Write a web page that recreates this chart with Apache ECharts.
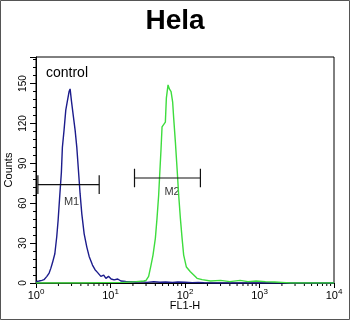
<!DOCTYPE html>
<html>
<head>
<meta charset="utf-8">
<script src="https://cdn.jsdelivr.net/npm/echarts@6/dist/echarts.min.js"></script>
<style>
  html, body { margin: 0; padding: 0; background: #fff; }
  #chart { width: 350px; height: 320px; }
</style>
</head>
<body>
<div id="chart"></div>
<script>
// control histogram (blue), FL1-H value vs counts
const ctrlFL = [1, 1.1, 1.2, 1.28, 1.4, 1.5, 1.58, 1.66, 1.79, 1.9, 1.98, 2.08, 2.19, 2.26, 2.38, 2.51,
  2.64, 2.78, 2.87, 2.99, 3.18, 3.35, 3.53, 3.71, 3.91, 4.12, 4.43, 4.81, 5.17, 5.73, 6.2, 6.68, 7.42,
  8.1, 8.68, 9.4, 10.2, 11.2, 12.5, 13.8, 16, 18.8, 22, 26, 31, 38, 46, 55, 68, 80, 100, 125, 150, 180, 250, 10000];
const ctrlCount = [1, 1.5, 2, 2.5, 5, 7.5, 11, 15, 22, 35, 47, 65, 83, 102, 115, 130,
  137, 144, 146, 137, 125, 115, 102, 85, 67, 52, 37, 27, 20, 13.5, 10, 8, 5,
  6, 3.5, 5, 3, 2.3, 3, 1.5, 1.2, 1, 0.8, 1, 0.5, 1, 0.6, 0.8, 0.5, 0.8, 0.6, 0.3, 0.5, 0.2, 0, 0];

// stained sample histogram (green)
const helaFL = [1, 2, 4, 8, 15, 22, 28, 30, 32.5, 35, 37.2, 40, 42.1, 44.3, 45.7, 47.7, 49.2, 51.7,
  54.5, 56.2, 59.2, 61.7, 65, 68.3, 70.5, 74.3, 78.3, 82.3, 86.7, 91.4, 96, 104.4, 118, 131, 145,
  170, 220, 300, 400, 550, 700, 900, 1200, 1600, 2000, 2600, 10000];
const helaCount = [0, 0, 0, 0.3, 0.5, 1, 1.5, 2, 5, 13.5, 21, 33.6, 48.6, 66, 81, 101, 117.5, 119,
  121, 139, 149, 146, 144, 136, 124, 106, 86, 66, 48.6, 33.6, 21, 12, 8.5, 6, 3.5,
  2.5, 1.5, 2, 1, 2, 1, 1.5, 1, 0.8, 0.5, 0, 0];

// gate markers: [from, to, level], label position [x, y]
const gateNames = ['M1', 'M2'];
const gateFrom = [1.06, 21];
const gateTo = [7.05, 161];
const gateLevel = [74, 79];
const gateLabelX = [3.0, 67];
const gateLabelY = [61, 68.5];

const yTicks = [0, 30, 60, 90, 120, 150];
const xDecades = [1, 10, 100, 1000, 10000];

const pairs = (xs, ys) => xs.map((x, i) => [x, ys[i]]);

// log minor ticks 2..9 per decade
const xMinor = [];
xDecades.slice(0, -1).forEach(d => {
  for (let k = 2; k <= 9; k++) xMinor.push(d * k);
});

const font = 'Liberation Sans, Arial, Helvetica, sans-serif';
const chart = echarts.init(document.getElementById('chart'));

const gateSeries = [];
gateNames.forEach((n, i) => {
  const lineStyle = { color: '#111', width: 1.2 };
  gateSeries.push({
    type: 'line', symbol: 'none', silent: true, lineStyle,
    data: [[gateFrom[i], gateLevel[i]], [gateTo[i], gateLevel[i]]]
  });
  [gateFrom[i], gateTo[i]].forEach(x => {
    gateSeries.push({
      type: 'line', symbol: 'none', silent: true, lineStyle,
      data: [[x, gateLevel[i] - 7], [x, gateLevel[i] + 7]]
    });
  });
});

chart.setOption({
  animation: false,
  backgroundColor: '#fff',
  title: {
    text: 'Hela', left: 'center', top: 2,
    textStyle: { fontFamily: font, fontSize: 28, fontWeight: 'bold', color: '#000' }
  },
  grid: {
    left: 36, right: 16, top: 57, bottom: 37,
    outerBoundsMode: 'none', containLabel: false,
    show: true, borderColor: '#000', borderWidth: 1
  },
  xAxis: {
    type: 'log', logBase: 10, min: 1, max: 10000,
    name: 'FL1-H', nameLocation: 'middle', nameGap: 17, nameMoveOverlap: false,
    nameTextStyle: { fontFamily: font, fontSize: 11, color: '#000' },
    axisLine: { lineStyle: { color: '#000', width: 1 } },
    axisTick: { length: 5, lineStyle: { color: '#000' } },
    splitLine: { show: false },
    axisLabel: {
      margin: 5,
      formatter: v => '{b|10}{s|' + Math.round(Math.log10(v)) + '}',
      rich: {
        b: { fontFamily: font, fontSize: 11, lineHeight: 16, color: '#000' },
        s: { fontFamily: font, fontSize: 8, lineHeight: 8, verticalAlign: 'top', color: '#000' }
      }
    }
  },
  yAxis: {
    type: 'value', min: 0, max: 170, interval: 30,
    name: 'Counts', nameLocation: 'middle', nameGap: 22, nameMoveOverlap: false,
    nameTextStyle: { fontFamily: font, fontSize: 11, color: '#000' },
    axisLine: { lineStyle: { color: '#000', width: 1 } },
    axisTick: { length: 6, lineStyle: { color: '#000' } },
    minorTick: { show: true, splitNumber: 5, length: 3, lineStyle: { color: '#000' } },
    splitLine: { show: false },
    axisLabel: {
      rotate: 90, margin: 8, fontFamily: font, fontSize: 10, color: '#000',
      formatter: v => (yTicks.indexOf(v) >= 0 ? String(v) : '')
    }
  },
  graphic: [
    {
      type: 'rect', silent: true,
      shape: { x: 0.5, y: 0.5, width: 349, height: 319 },
      style: { fill: 'none', stroke: '#555', lineWidth: 1 }
    },
    {
      type: 'text', left: 46, top: 66, silent: true,
      style: { text: 'control', font: '14px ' + font, fill: '#000' }
    }
  ],
  series: [
    {
      type: 'custom', silent: true, clip: false,
      data: xMinor.map(v => [v, 0]),
      renderItem: (params, api) => {
        const p = api.coord([api.value(0), 0]);
        return {
          type: 'line',
          shape: { x1: p[0], y1: p[1], x2: p[0], y2: p[1] + 3 },
          style: { stroke: '#000', lineWidth: 1 }
        };
      }
    },
    {
      name: 'control', type: 'line', symbol: 'none', silent: true,
      lineStyle: { color: '#1c1c8c', width: 1.4 },
      data: pairs(ctrlFL, ctrlCount)
    },
    {
      name: 'Hela', type: 'line', symbol: 'none', silent: true,
      lineStyle: { color: '#3ddc3d', width: 1.4 },
      data: pairs(helaFL, helaCount)
    },
    ...gateSeries,
    {
      type: 'scatter', symbolSize: 0, silent: true,
      data: gateNames.map((n, i) => ({ value: [gateLabelX[i], gateLabelY[i]], name: n })),
      label: {
        show: true, position: 'inside', formatter: p => p.name,
        fontFamily: font, fontSize: 11, color: '#000'
      }
    }
  ]
});
</script>
</body>
</html>
